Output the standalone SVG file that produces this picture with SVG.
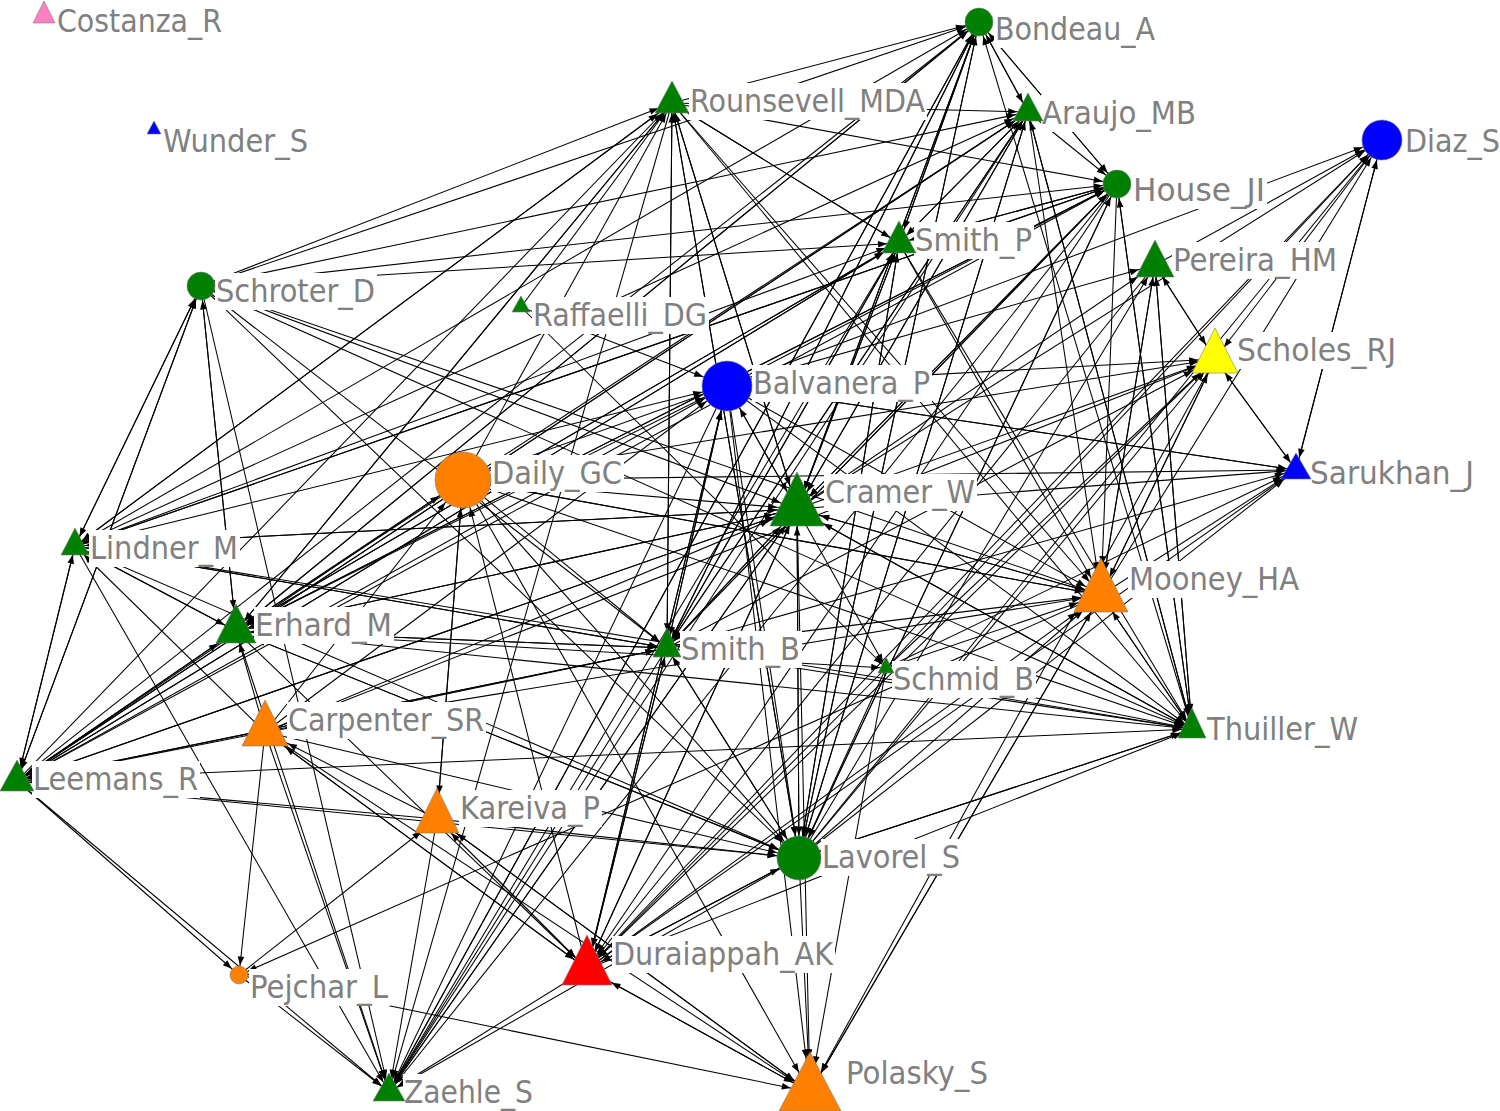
<svg xmlns="http://www.w3.org/2000/svg" width="1500" height="1111" viewBox="0 0 1500 1111">
<style>
#edges line{stroke:#000;stroke-width:1.05;fill:none}
.lb{fill:#fff}
.tx{font-family:"DejaVu Sans Condensed","DejaVu Sans",sans-serif;font-size:31.5px;fill:#808080}
.nd{stroke:#7a7a7a;stroke-width:0.6}
marker path{fill:#000}
.Bo{marker-end:url(#m-Bo)}.Di{marker-end:url(#m-Di)}.Ho{marker-end:url(#m-Ho)}.Sc{marker-end:url(#m-Sc)}.Ba{marker-end:url(#m-Ba)}.Da{marker-end:url(#m-Da)}.La{marker-end:url(#m-La)}.Pj{marker-end:url(#m-Pj)}
.Ro_a{marker-end:url(#m-Ro_a)}.Ro_b{marker-end:url(#m-Ro_b)}.Ro_c{marker-end:url(#m-Ro_c)}.Ro_d{marker-end:url(#m-Ro_d)}
.Ar_a{marker-end:url(#m-Ar_a)}.Ar_b{marker-end:url(#m-Ar_b)}.Ar_c{marker-end:url(#m-Ar_c)}.Ar_d{marker-end:url(#m-Ar_d)}
.SP_a{marker-end:url(#m-SP_a)}.SP_b{marker-end:url(#m-SP_b)}.SP_c{marker-end:url(#m-SP_c)}.SP_d{marker-end:url(#m-SP_d)}
.Pe_a{marker-end:url(#m-Pe_a)}.Pe_b{marker-end:url(#m-Pe_b)}.Pe_c{marker-end:url(#m-Pe_c)}.Pe_d{marker-end:url(#m-Pe_d)}
.Sh_a{marker-end:url(#m-Sh_a)}.Sh_b{marker-end:url(#m-Sh_b)}.Sh_c{marker-end:url(#m-Sh_c)}.Sh_d{marker-end:url(#m-Sh_d)}
.Sa_a{marker-end:url(#m-Sa_a)}.Sa_b{marker-end:url(#m-Sa_b)}.Sa_c{marker-end:url(#m-Sa_c)}.Sa_d{marker-end:url(#m-Sa_d)}
.Cr_a{marker-end:url(#m-Cr_a)}.Cr_b{marker-end:url(#m-Cr_b)}.Cr_c{marker-end:url(#m-Cr_c)}.Cr_d{marker-end:url(#m-Cr_d)}
.Li_a{marker-end:url(#m-Li_a)}.Li_b{marker-end:url(#m-Li_b)}.Li_c{marker-end:url(#m-Li_c)}.Li_d{marker-end:url(#m-Li_d)}
.Mo_a{marker-end:url(#m-Mo_a)}.Mo_b{marker-end:url(#m-Mo_b)}.Mo_c{marker-end:url(#m-Mo_c)}.Mo_d{marker-end:url(#m-Mo_d)}
.Er_a{marker-end:url(#m-Er_a)}.Er_b{marker-end:url(#m-Er_b)}.Er_c{marker-end:url(#m-Er_c)}.Er_d{marker-end:url(#m-Er_d)}
.SB_a{marker-end:url(#m-SB_a)}.SB_b{marker-end:url(#m-SB_b)}.SB_c{marker-end:url(#m-SB_c)}.SB_d{marker-end:url(#m-SB_d)}
.Sm_a{marker-end:url(#m-Sm_a)}.Sm_b{marker-end:url(#m-Sm_b)}
.Ca_d{marker-end:url(#m-Ca_d)}
.Th_a{marker-end:url(#m-Th_a)}.Th_b{marker-end:url(#m-Th_b)}.Th_c{marker-end:url(#m-Th_c)}.Th_d{marker-end:url(#m-Th_d)}
.Le_a{marker-end:url(#m-Le_a)}.Le_b{marker-end:url(#m-Le_b)}.Le_c{marker-end:url(#m-Le_c)}
.Ka_c{marker-end:url(#m-Ka_c)}.Ka_d{marker-end:url(#m-Ka_d)}
.Du_a{marker-end:url(#m-Du_a)}.Du_b{marker-end:url(#m-Du_b)}.Du_c{marker-end:url(#m-Du_c)}.Du_d{marker-end:url(#m-Du_d)}
.Po_a{marker-end:url(#m-Po_a)}.Po_b{marker-end:url(#m-Po_b)}.Po_c{marker-end:url(#m-Po_c)}.Po_d{marker-end:url(#m-Po_d)}
.Za_a{marker-end:url(#m-Za_a)}.Za_b{marker-end:url(#m-Za_b)}.Za_c{marker-end:url(#m-Za_c)}
</style>
<defs>
<marker id="m-Bo" markerUnits="userSpaceOnUse" markerWidth="10" markerHeight="8" orient="auto" overflow="visible" refX="23.5" refY="0"><path d="M0,-3.3L9,0L0,3.3z"/></marker>
<marker id="m-Di" markerUnits="userSpaceOnUse" markerWidth="10" markerHeight="8" orient="auto" overflow="visible" refX="29.5" refY="0"><path d="M0,-3.3L9,0L0,3.3z"/></marker>
<marker id="m-Ho" markerUnits="userSpaceOnUse" markerWidth="10" markerHeight="8" orient="auto" overflow="visible" refX="23.5" refY="0"><path d="M0,-3.3L9,0L0,3.3z"/></marker>
<marker id="m-Sc" markerUnits="userSpaceOnUse" markerWidth="10" markerHeight="8" orient="auto" overflow="visible" refX="23.5" refY="0"><path d="M0,-3.3L9,0L0,3.3z"/></marker>
<marker id="m-Ba" markerUnits="userSpaceOnUse" markerWidth="10" markerHeight="8" orient="auto" overflow="visible" refX="34.5" refY="0"><path d="M0,-3.3L9,0L0,3.3z"/></marker>
<marker id="m-Da" markerUnits="userSpaceOnUse" markerWidth="10" markerHeight="8" orient="auto" overflow="visible" refX="37.5" refY="0"><path d="M0,-3.3L9,0L0,3.3z"/></marker>
<marker id="m-La" markerUnits="userSpaceOnUse" markerWidth="10" markerHeight="8" orient="auto" overflow="visible" refX="31.5" refY="0"><path d="M0,-3.3L9,0L0,3.3z"/></marker>
<marker id="m-Pj" markerUnits="userSpaceOnUse" markerWidth="10" markerHeight="8" orient="auto" overflow="visible" refX="18.5" refY="0"><path d="M0,-3.3L9,0L0,3.3z"/></marker>
<marker id="m-Ro_a" markerUnits="userSpaceOnUse" markerWidth="10" markerHeight="8" orient="auto" overflow="visible" refX="19.5" refY="0"><path d="M0,-3.3L9,0L0,3.3z"/></marker>
<marker id="m-Ro_b" markerUnits="userSpaceOnUse" markerWidth="10" markerHeight="8" orient="auto" overflow="visible" refX="21" refY="0"><path d="M0,-3.3L9,0L0,3.3z"/></marker>
<marker id="m-Ro_c" markerUnits="userSpaceOnUse" markerWidth="10" markerHeight="8" orient="auto" overflow="visible" refX="23.5" refY="0"><path d="M0,-3.3L9,0L0,3.3z"/></marker>
<marker id="m-Ro_d" markerUnits="userSpaceOnUse" markerWidth="10" markerHeight="8" orient="auto" overflow="visible" refX="27" refY="0"><path d="M0,-3.3L9,0L0,3.3z"/></marker>
<marker id="m-Ar_a" markerUnits="userSpaceOnUse" markerWidth="10" markerHeight="8" orient="auto" overflow="visible" refX="18.5" refY="0"><path d="M0,-3.3L9,0L0,3.3z"/></marker>
<marker id="m-Ar_b" markerUnits="userSpaceOnUse" markerWidth="10" markerHeight="8" orient="auto" overflow="visible" refX="19.8" refY="0"><path d="M0,-3.3L9,0L0,3.3z"/></marker>
<marker id="m-Ar_c" markerUnits="userSpaceOnUse" markerWidth="10" markerHeight="8" orient="auto" overflow="visible" refX="22" refY="0"><path d="M0,-3.3L9,0L0,3.3z"/></marker>
<marker id="m-Ar_d" markerUnits="userSpaceOnUse" markerWidth="10" markerHeight="8" orient="auto" overflow="visible" refX="25.2" refY="0"><path d="M0,-3.3L9,0L0,3.3z"/></marker>
<marker id="m-SP_a" markerUnits="userSpaceOnUse" markerWidth="10" markerHeight="8" orient="auto" overflow="visible" refX="19.5" refY="0"><path d="M0,-3.3L9,0L0,3.3z"/></marker>
<marker id="m-SP_b" markerUnits="userSpaceOnUse" markerWidth="10" markerHeight="8" orient="auto" overflow="visible" refX="21" refY="0"><path d="M0,-3.3L9,0L0,3.3z"/></marker>
<marker id="m-SP_c" markerUnits="userSpaceOnUse" markerWidth="10" markerHeight="8" orient="auto" overflow="visible" refX="23.5" refY="0"><path d="M0,-3.3L9,0L0,3.3z"/></marker>
<marker id="m-SP_d" markerUnits="userSpaceOnUse" markerWidth="10" markerHeight="8" orient="auto" overflow="visible" refX="27" refY="0"><path d="M0,-3.3L9,0L0,3.3z"/></marker>
<marker id="m-Pe_a" markerUnits="userSpaceOnUse" markerWidth="10" markerHeight="8" orient="auto" overflow="visible" refX="21.1" refY="0"><path d="M0,-3.3L9,0L0,3.3z"/></marker>
<marker id="m-Pe_b" markerUnits="userSpaceOnUse" markerWidth="10" markerHeight="8" orient="auto" overflow="visible" refX="22.8" refY="0"><path d="M0,-3.3L9,0L0,3.3z"/></marker>
<marker id="m-Pe_c" markerUnits="userSpaceOnUse" markerWidth="10" markerHeight="8" orient="auto" overflow="visible" refX="25.7" refY="0"><path d="M0,-3.3L9,0L0,3.3z"/></marker>
<marker id="m-Pe_d" markerUnits="userSpaceOnUse" markerWidth="10" markerHeight="8" orient="auto" overflow="visible" refX="29.7" refY="0"><path d="M0,-3.3L9,0L0,3.3z"/></marker>
<marker id="m-Sh_a" markerUnits="userSpaceOnUse" markerWidth="10" markerHeight="8" orient="auto" overflow="visible" refX="23.7" refY="0"><path d="M0,-3.3L9,0L0,3.3z"/></marker>
<marker id="m-Sh_b" markerUnits="userSpaceOnUse" markerWidth="10" markerHeight="8" orient="auto" overflow="visible" refX="25.8" refY="0"><path d="M0,-3.3L9,0L0,3.3z"/></marker>
<marker id="m-Sh_c" markerUnits="userSpaceOnUse" markerWidth="10" markerHeight="8" orient="auto" overflow="visible" refX="29.3" refY="0"><path d="M0,-3.3L9,0L0,3.3z"/></marker>
<marker id="m-Sh_d" markerUnits="userSpaceOnUse" markerWidth="10" markerHeight="8" orient="auto" overflow="visible" refX="34.2" refY="0"><path d="M0,-3.3L9,0L0,3.3z"/></marker>
<marker id="m-Sa_a" markerUnits="userSpaceOnUse" markerWidth="10" markerHeight="8" orient="auto" overflow="visible" refX="18.1" refY="0"><path d="M0,-3.3L9,0L0,3.3z"/></marker>
<marker id="m-Sa_b" markerUnits="userSpaceOnUse" markerWidth="10" markerHeight="8" orient="auto" overflow="visible" refX="19.4" refY="0"><path d="M0,-3.3L9,0L0,3.3z"/></marker>
<marker id="m-Sa_c" markerUnits="userSpaceOnUse" markerWidth="10" markerHeight="8" orient="auto" overflow="visible" refX="21.6" refY="0"><path d="M0,-3.3L9,0L0,3.3z"/></marker>
<marker id="m-Sa_d" markerUnits="userSpaceOnUse" markerWidth="10" markerHeight="8" orient="auto" overflow="visible" refX="24.7" refY="0"><path d="M0,-3.3L9,0L0,3.3z"/></marker>
<marker id="m-Cr_a" markerUnits="userSpaceOnUse" markerWidth="10" markerHeight="8" orient="auto" overflow="visible" refX="26.5" refY="0"><path d="M0,-3.3L9,0L0,3.3z"/></marker>
<marker id="m-Cr_b" markerUnits="userSpaceOnUse" markerWidth="10" markerHeight="8" orient="auto" overflow="visible" refX="29" refY="0"><path d="M0,-3.3L9,0L0,3.3z"/></marker>
<marker id="m-Cr_c" markerUnits="userSpaceOnUse" markerWidth="10" markerHeight="8" orient="auto" overflow="visible" refX="33.2" refY="0"><path d="M0,-3.3L9,0L0,3.3z"/></marker>
<marker id="m-Cr_d" markerUnits="userSpaceOnUse" markerWidth="10" markerHeight="8" orient="auto" overflow="visible" refX="39" refY="0"><path d="M0,-3.3L9,0L0,3.3z"/></marker>
<marker id="m-Li_a" markerUnits="userSpaceOnUse" markerWidth="10" markerHeight="8" orient="auto" overflow="visible" refX="17.9" refY="0"><path d="M0,-3.3L9,0L0,3.3z"/></marker>
<marker id="m-Li_b" markerUnits="userSpaceOnUse" markerWidth="10" markerHeight="8" orient="auto" overflow="visible" refX="19.2" refY="0"><path d="M0,-3.3L9,0L0,3.3z"/></marker>
<marker id="m-Li_c" markerUnits="userSpaceOnUse" markerWidth="10" markerHeight="8" orient="auto" overflow="visible" refX="21.3" refY="0"><path d="M0,-3.3L9,0L0,3.3z"/></marker>
<marker id="m-Li_d" markerUnits="userSpaceOnUse" markerWidth="10" markerHeight="8" orient="auto" overflow="visible" refX="24.3" refY="0"><path d="M0,-3.3L9,0L0,3.3z"/></marker>
<marker id="m-Mo_a" markerUnits="userSpaceOnUse" markerWidth="10" markerHeight="8" orient="auto" overflow="visible" refX="26.5" refY="0"><path d="M0,-3.3L9,0L0,3.3z"/></marker>
<marker id="m-Mo_b" markerUnits="userSpaceOnUse" markerWidth="10" markerHeight="8" orient="auto" overflow="visible" refX="29" refY="0"><path d="M0,-3.3L9,0L0,3.3z"/></marker>
<marker id="m-Mo_c" markerUnits="userSpaceOnUse" markerWidth="10" markerHeight="8" orient="auto" overflow="visible" refX="33.2" refY="0"><path d="M0,-3.3L9,0L0,3.3z"/></marker>
<marker id="m-Mo_d" markerUnits="userSpaceOnUse" markerWidth="10" markerHeight="8" orient="auto" overflow="visible" refX="39" refY="0"><path d="M0,-3.3L9,0L0,3.3z"/></marker>
<marker id="m-Er_a" markerUnits="userSpaceOnUse" markerWidth="10" markerHeight="8" orient="auto" overflow="visible" refX="21.8" refY="0"><path d="M0,-3.3L9,0L0,3.3z"/></marker>
<marker id="m-Er_b" markerUnits="userSpaceOnUse" markerWidth="10" markerHeight="8" orient="auto" overflow="visible" refX="23.6" refY="0"><path d="M0,-3.3L9,0L0,3.3z"/></marker>
<marker id="m-Er_c" markerUnits="userSpaceOnUse" markerWidth="10" markerHeight="8" orient="auto" overflow="visible" refX="26.7" refY="0"><path d="M0,-3.3L9,0L0,3.3z"/></marker>
<marker id="m-Er_d" markerUnits="userSpaceOnUse" markerWidth="10" markerHeight="8" orient="auto" overflow="visible" refX="31" refY="0"><path d="M0,-3.3L9,0L0,3.3z"/></marker>
<marker id="m-SB_a" markerUnits="userSpaceOnUse" markerWidth="10" markerHeight="8" orient="auto" overflow="visible" refX="18.2" refY="0"><path d="M0,-3.3L9,0L0,3.3z"/></marker>
<marker id="m-SB_b" markerUnits="userSpaceOnUse" markerWidth="10" markerHeight="8" orient="auto" overflow="visible" refX="19.6" refY="0"><path d="M0,-3.3L9,0L0,3.3z"/></marker>
<marker id="m-SB_c" markerUnits="userSpaceOnUse" markerWidth="10" markerHeight="8" orient="auto" overflow="visible" refX="21.8" refY="0"><path d="M0,-3.3L9,0L0,3.3z"/></marker>
<marker id="m-SB_d" markerUnits="userSpaceOnUse" markerWidth="10" markerHeight="8" orient="auto" overflow="visible" refX="24.8" refY="0"><path d="M0,-3.3L9,0L0,3.3z"/></marker>
<marker id="m-Sm_a" markerUnits="userSpaceOnUse" markerWidth="10" markerHeight="8" orient="auto" overflow="visible" refX="14" refY="0"><path d="M0,-3.3L9,0L0,3.3z"/></marker>
<marker id="m-Sm_b" markerUnits="userSpaceOnUse" markerWidth="10" markerHeight="8" orient="auto" overflow="visible" refX="14.8" refY="0"><path d="M0,-3.3L9,0L0,3.3z"/></marker>
<marker id="m-Ca_d" markerUnits="userSpaceOnUse" markerWidth="10" markerHeight="8" orient="auto" overflow="visible" refX="34.6" refY="0"><path d="M0,-3.3L9,0L0,3.3z"/></marker>
<marker id="m-Th_a" markerUnits="userSpaceOnUse" markerWidth="10" markerHeight="8" orient="auto" overflow="visible" refX="18.3" refY="0"><path d="M0,-3.3L9,0L0,3.3z"/></marker>
<marker id="m-Th_b" markerUnits="userSpaceOnUse" markerWidth="10" markerHeight="8" orient="auto" overflow="visible" refX="19.7" refY="0"><path d="M0,-3.3L9,0L0,3.3z"/></marker>
<marker id="m-Th_c" markerUnits="userSpaceOnUse" markerWidth="10" markerHeight="8" orient="auto" overflow="visible" refX="21.9" refY="0"><path d="M0,-3.3L9,0L0,3.3z"/></marker>
<marker id="m-Th_d" markerUnits="userSpaceOnUse" markerWidth="10" markerHeight="8" orient="auto" overflow="visible" refX="25" refY="0"><path d="M0,-3.3L9,0L0,3.3z"/></marker>
<marker id="m-Le_a" markerUnits="userSpaceOnUse" markerWidth="10" markerHeight="8" orient="auto" overflow="visible" refX="19.6" refY="0"><path d="M0,-3.3L9,0L0,3.3z"/></marker>
<marker id="m-Le_b" markerUnits="userSpaceOnUse" markerWidth="10" markerHeight="8" orient="auto" overflow="visible" refX="21.1" refY="0"><path d="M0,-3.3L9,0L0,3.3z"/></marker>
<marker id="m-Le_c" markerUnits="userSpaceOnUse" markerWidth="10" markerHeight="8" orient="auto" overflow="visible" refX="23.6" refY="0"><path d="M0,-3.3L9,0L0,3.3z"/></marker>
<marker id="m-Ka_c" markerUnits="userSpaceOnUse" markerWidth="10" markerHeight="8" orient="auto" overflow="visible" refX="28.9" refY="0"><path d="M0,-3.3L9,0L0,3.3z"/></marker>
<marker id="m-Ka_d" markerUnits="userSpaceOnUse" markerWidth="10" markerHeight="8" orient="auto" overflow="visible" refX="33.7" refY="0"><path d="M0,-3.3L9,0L0,3.3z"/></marker>
<marker id="m-Du_a" markerUnits="userSpaceOnUse" markerWidth="10" markerHeight="8" orient="auto" overflow="visible" refX="25.3" refY="0"><path d="M0,-3.3L9,0L0,3.3z"/></marker>
<marker id="m-Du_b" markerUnits="userSpaceOnUse" markerWidth="10" markerHeight="8" orient="auto" overflow="visible" refX="27.6" refY="0"><path d="M0,-3.3L9,0L0,3.3z"/></marker>
<marker id="m-Du_c" markerUnits="userSpaceOnUse" markerWidth="10" markerHeight="8" orient="auto" overflow="visible" refX="31.5" refY="0"><path d="M0,-3.3L9,0L0,3.3z"/></marker>
<marker id="m-Du_d" markerUnits="userSpaceOnUse" markerWidth="10" markerHeight="8" orient="auto" overflow="visible" refX="36.9" refY="0"><path d="M0,-3.3L9,0L0,3.3z"/></marker>
<marker id="m-Po_a" markerUnits="userSpaceOnUse" markerWidth="10" markerHeight="8" orient="auto" overflow="visible" refX="28.6" refY="0"><path d="M0,-3.3L9,0L0,3.3z"/></marker>
<marker id="m-Po_b" markerUnits="userSpaceOnUse" markerWidth="10" markerHeight="8" orient="auto" overflow="visible" refX="31.4" refY="0"><path d="M0,-3.3L9,0L0,3.3z"/></marker>
<marker id="m-Po_c" markerUnits="userSpaceOnUse" markerWidth="10" markerHeight="8" orient="auto" overflow="visible" refX="36.1" refY="0"><path d="M0,-3.3L9,0L0,3.3z"/></marker>
<marker id="m-Po_d" markerUnits="userSpaceOnUse" markerWidth="10" markerHeight="8" orient="auto" overflow="visible" refX="42.7" refY="0"><path d="M0,-3.3L9,0L0,3.3z"/></marker>
<marker id="m-Za_a" markerUnits="userSpaceOnUse" markerWidth="10" markerHeight="8" orient="auto" overflow="visible" refX="18.8" refY="0"><path d="M0,-3.3L9,0L0,3.3z"/></marker>
<marker id="m-Za_b" markerUnits="userSpaceOnUse" markerWidth="10" markerHeight="8" orient="auto" overflow="visible" refX="20.2" refY="0"><path d="M0,-3.3L9,0L0,3.3z"/></marker>
<marker id="m-Za_c" markerUnits="userSpaceOnUse" markerWidth="10" markerHeight="8" orient="auto" overflow="visible" refX="22.5" refY="0"><path d="M0,-3.3L9,0L0,3.3z"/></marker>
</defs>
<rect width="1500" height="1111" fill="#fff"/>
<g id="edges">
<line class="Li_b" x1="201" y1="286" x2="75" y2="546"/>
<line class="Le_b" x1="201" y1="286" x2="17" y2="781"/>
<line class="Er_d" x1="201" y1="286" x2="236" y2="631"/>
<line class="Ro_c" x1="201" y1="286" x2="672" y2="103"/>
<line class="Bo" x1="201" y1="286" x2="979" y2="22"/>
<line class="Ar_c" x1="201" y1="286" x2="1028" y2="112"/>
<line class="Ho" x1="201" y1="286" x2="1117" y2="184"/>
<line class="SP_b" x1="201" y1="286" x2="899" y2="243"/>
<line class="SB_a" x1="201" y1="286" x2="667" y2="648"/>
<line class="La" x1="201" y1="286" x2="799" y2="858"/>
<line class="Cr_a" x1="201" y1="286" x2="797" y2="509"/>
<line class="Th_a" x1="201" y1="286" x2="1192" y2="729"/>
<line class="Za_c" x1="201" y1="286" x2="389" y2="1092"/>
<line class="Mo_a" x1="201" y1="286" x2="1101" y2="595"/>
<line class="Sc" x1="75" y1="546" x2="201" y2="286"/>
<line class="Le_c" x1="75" y1="546" x2="17" y2="781"/>
<line class="Er_a" x1="75" y1="546" x2="236" y2="631"/>
<line class="Ro_d" x1="75" y1="546" x2="672" y2="103"/>
<line class="Bo" x1="75" y1="546" x2="979" y2="22"/>
<line class="Ar_d" x1="75" y1="546" x2="1028" y2="112"/>
<line class="Ho" x1="75" y1="546" x2="1117" y2="184"/>
<line class="SP_c" x1="75" y1="546" x2="899" y2="243"/>
<line class="Cr_b" x1="75" y1="546" x2="797" y2="509"/>
<line class="SB_a" x1="75" y1="546" x2="667" y2="648"/>
<line class="Th_a" x1="75" y1="546" x2="1192" y2="729"/>
<line class="Za_b" x1="75" y1="546" x2="389" y2="1092"/>
<line class="La" x1="75" y1="546" x2="799" y2="858"/>
<line class="Ba" x1="75" y1="546" x2="727" y2="386"/>
<line class="Li_a" x1="17" y1="781" x2="75" y2="546"/>
<line class="Sc" x1="17" y1="781" x2="201" y2="286"/>
<line class="Er_d" x1="17" y1="781" x2="236" y2="631"/>
<line class="Ro_c" x1="17" y1="781" x2="672" y2="103"/>
<line class="Bo" x1="17" y1="781" x2="979" y2="22"/>
<line class="Ar_d" x1="17" y1="781" x2="1028" y2="112"/>
<line class="Ho" x1="17" y1="781" x2="1117" y2="184"/>
<line class="SP_d" x1="17" y1="781" x2="899" y2="243"/>
<line class="Cr_c" x1="17" y1="781" x2="797" y2="509"/>
<line class="SB_c" x1="17" y1="781" x2="667" y2="648"/>
<line class="Th_b" x1="17" y1="781" x2="1192" y2="729"/>
<line class="La" x1="17" y1="781" x2="799" y2="858"/>
<line class="Za_a" x1="17" y1="781" x2="389" y2="1092"/>
<line class="Ba" x1="17" y1="781" x2="727" y2="386"/>
<line class="Da" x1="17" y1="781" x2="463" y2="480"/>
<line class="Pj" x1="17" y1="781" x2="239" y2="975"/>
<line class="Sc" x1="236" y1="631" x2="201" y2="286"/>
<line class="Li_d" x1="236" y1="631" x2="75" y2="546"/>
<line class="Le_a" x1="236" y1="631" x2="17" y2="781"/>
<line class="Ro_b" x1="236" y1="631" x2="672" y2="103"/>
<line class="Bo" x1="236" y1="631" x2="979" y2="22"/>
<line class="Ar_d" x1="236" y1="631" x2="1028" y2="112"/>
<line class="Ho" x1="236" y1="631" x2="1117" y2="184"/>
<line class="SP_d" x1="236" y1="631" x2="899" y2="243"/>
<line class="Cr_c" x1="236" y1="631" x2="797" y2="509"/>
<line class="SB_b" x1="236" y1="631" x2="667" y2="648"/>
<line class="Th_a" x1="236" y1="631" x2="1192" y2="729"/>
<line class="La" x1="236" y1="631" x2="799" y2="858"/>
<line class="Za_c" x1="236" y1="631" x2="389" y2="1092"/>
<line class="Sm_b" x1="236" y1="631" x2="886" y2="668"/>
<line class="Du_a" x1="236" y1="631" x2="587" y2="969"/>
<line class="Ba" x1="236" y1="631" x2="727" y2="386"/>
<line class="Bo" x1="672" y1="103" x2="979" y2="22"/>
<line class="Ar_b" x1="672" y1="103" x2="1028" y2="112"/>
<line class="Ho" x1="672" y1="103" x2="1117" y2="184"/>
<line class="SP_a" x1="672" y1="103" x2="899" y2="243"/>
<line class="SB_d" x1="672" y1="103" x2="667" y2="648"/>
<line class="Cr_c" x1="672" y1="103" x2="797" y2="509"/>
<line class="Th_a" x1="672" y1="103" x2="1192" y2="729"/>
<line class="La" x1="672" y1="103" x2="799" y2="858"/>
<line class="Za_c" x1="672" y1="103" x2="389" y2="1092"/>
<line class="Er_a" x1="672" y1="103" x2="236" y2="631"/>
<line class="Li_a" x1="672" y1="103" x2="75" y2="546"/>
<line class="Mo_a" x1="672" y1="103" x2="1101" y2="595"/>
<line class="Ar_b" x1="979" y1="22" x2="1028" y2="112"/>
<line class="Ho" x1="979" y1="22" x2="1117" y2="184"/>
<line class="SP_c" x1="979" y1="22" x2="899" y2="243"/>
<line class="Cr_b" x1="979" y1="22" x2="797" y2="509"/>
<line class="La" x1="979" y1="22" x2="799" y2="858"/>
<line class="Za_b" x1="979" y1="22" x2="389" y2="1092"/>
<line class="SB_b" x1="979" y1="22" x2="667" y2="648"/>
<line class="Er_a" x1="979" y1="22" x2="236" y2="631"/>
<line class="Ho" x1="1028" y1="112" x2="1117" y2="184"/>
<line class="Bo" x1="1028" y1="112" x2="979" y2="22"/>
<line class="Th_c" x1="1028" y1="112" x2="1192" y2="729"/>
<line class="SP_a" x1="1028" y1="112" x2="899" y2="243"/>
<line class="Cr_b" x1="1028" y1="112" x2="797" y2="509"/>
<line class="SB_b" x1="1028" y1="112" x2="667" y2="648"/>
<line class="La" x1="1028" y1="112" x2="799" y2="858"/>
<line class="Za_b" x1="1028" y1="112" x2="389" y2="1092"/>
<line class="Le_a" x1="1028" y1="112" x2="17" y2="781"/>
<line class="Mo_c" x1="1028" y1="112" x2="1101" y2="595"/>
<line class="Th_d" x1="1117" y1="184" x2="1192" y2="729"/>
<line class="Bo" x1="1117" y1="184" x2="979" y2="22"/>
<line class="Cr_a" x1="1117" y1="184" x2="797" y2="509"/>
<line class="SB_a" x1="1117" y1="184" x2="667" y2="648"/>
<line class="La" x1="1117" y1="184" x2="799" y2="858"/>
<line class="Za_a" x1="1117" y1="184" x2="389" y2="1092"/>
<line class="Er_a" x1="1117" y1="184" x2="236" y2="631"/>
<line class="Li_a" x1="1117" y1="184" x2="75" y2="546"/>
<line class="SP_a" x1="1117" y1="184" x2="899" y2="243"/>
<line class="Mo_d" x1="1117" y1="184" x2="1101" y2="595"/>
<line class="Du_b" x1="1117" y1="184" x2="587" y2="969"/>
<line class="Bo" x1="899" y1="243" x2="979" y2="22"/>
<line class="Ar_c" x1="899" y1="243" x2="1028" y2="112"/>
<line class="Ho" x1="899" y1="243" x2="1117" y2="184"/>
<line class="Ro_d" x1="899" y1="243" x2="672" y2="103"/>
<line class="Cr_b" x1="899" y1="243" x2="797" y2="509"/>
<line class="SB_b" x1="899" y1="243" x2="667" y2="648"/>
<line class="La" x1="899" y1="243" x2="799" y2="858"/>
<line class="Th_b" x1="899" y1="243" x2="1192" y2="729"/>
<line class="Za_b" x1="899" y1="243" x2="389" y2="1092"/>
<line class="Er_a" x1="899" y1="243" x2="236" y2="631"/>
<line class="Le_a" x1="899" y1="243" x2="17" y2="781"/>
<line class="Mo_b" x1="899" y1="243" x2="1101" y2="595"/>
<line class="Bo" x1="797" y1="509" x2="979" y2="22"/>
<line class="Ro_a" x1="797" y1="509" x2="672" y2="103"/>
<line class="Ar_b" x1="797" y1="509" x2="1028" y2="112"/>
<line class="Ho" x1="797" y1="509" x2="1117" y2="184"/>
<line class="SP_a" x1="797" y1="509" x2="899" y2="243"/>
<line class="Li_b" x1="797" y1="509" x2="75" y2="546"/>
<line class="Le_a" x1="797" y1="509" x2="17" y2="781"/>
<line class="Er_a" x1="797" y1="509" x2="236" y2="631"/>
<line class="SB_a" x1="797" y1="509" x2="667" y2="648"/>
<line class="La" x1="797" y1="509" x2="799" y2="858"/>
<line class="Th_a" x1="797" y1="509" x2="1192" y2="729"/>
<line class="Za_b" x1="797" y1="509" x2="389" y2="1092"/>
<line class="Di" x1="797" y1="509" x2="1382" y2="140"/>
<line class="Sh_c" x1="797" y1="509" x2="1215" y2="359"/>
<line class="Sa_b" x1="797" y1="509" x2="1296" y2="470"/>
<line class="Pe_d" x1="797" y1="509" x2="1155" y2="265"/>
<line class="Mo_a" x1="797" y1="509" x2="1101" y2="595"/>
<line class="Po_d" x1="797" y1="509" x2="810" y2="1092"/>
<line class="Du_b" x1="797" y1="509" x2="587" y2="969"/>
<line class="Ba" x1="797" y1="509" x2="727" y2="386"/>
<line class="Sm_b" x1="797" y1="509" x2="886" y2="668"/>
<line class="Cr_c" x1="667" y1="648" x2="797" y2="509"/>
<line class="Ro_a" x1="667" y1="648" x2="672" y2="103"/>
<line class="Bo" x1="667" y1="648" x2="979" y2="22"/>
<line class="Ar_b" x1="667" y1="648" x2="1028" y2="112"/>
<line class="Ho" x1="667" y1="648" x2="1117" y2="184"/>
<line class="SP_b" x1="667" y1="648" x2="899" y2="243"/>
<line class="Li_c" x1="667" y1="648" x2="75" y2="546"/>
<line class="Le_a" x1="667" y1="648" x2="17" y2="781"/>
<line class="Er_b" x1="667" y1="648" x2="236" y2="631"/>
<line class="La" x1="667" y1="648" x2="799" y2="858"/>
<line class="Th_a" x1="667" y1="648" x2="1192" y2="729"/>
<line class="Za_b" x1="667" y1="648" x2="389" y2="1092"/>
<line class="Du_c" x1="667" y1="648" x2="587" y2="969"/>
<line class="Mo_b" x1="667" y1="648" x2="1101" y2="595"/>
<line class="Sh_d" x1="667" y1="648" x2="1215" y2="359"/>
<line class="Sa_c" x1="667" y1="648" x2="1296" y2="470"/>
<line class="Ba" x1="667" y1="648" x2="727" y2="386"/>
<line class="Cr_a" x1="799" y1="858" x2="797" y2="509"/>
<line class="Th_c" x1="799" y1="858" x2="1192" y2="729"/>
<line class="Ho" x1="799" y1="858" x2="1117" y2="184"/>
<line class="SP_a" x1="799" y1="858" x2="899" y2="243"/>
<line class="Bo" x1="799" y1="858" x2="979" y2="22"/>
<line class="Ar_a" x1="799" y1="858" x2="1028" y2="112"/>
<line class="Ro_a" x1="799" y1="858" x2="672" y2="103"/>
<line class="SB_b" x1="799" y1="858" x2="667" y2="648"/>
<line class="Za_a" x1="799" y1="858" x2="389" y2="1092"/>
<line class="Er_d" x1="799" y1="858" x2="236" y2="631"/>
<line class="Po_d" x1="799" y1="858" x2="810" y2="1092"/>
<line class="Mo_c" x1="799" y1="858" x2="1101" y2="595"/>
<line class="Sh_b" x1="799" y1="858" x2="1215" y2="359"/>
<line class="Pe_b" x1="799" y1="858" x2="1155" y2="265"/>
<line class="Sa_d" x1="799" y1="858" x2="1296" y2="470"/>
<line class="Du_a" x1="799" y1="858" x2="587" y2="969"/>
<line class="Di" x1="799" y1="858" x2="1382" y2="140"/>
<line class="Ho" x1="1192" y1="729" x2="1117" y2="184"/>
<line class="Ar_a" x1="1192" y1="729" x2="1028" y2="112"/>
<line class="Bo" x1="1192" y1="729" x2="979" y2="22"/>
<line class="Cr_d" x1="1192" y1="729" x2="797" y2="509"/>
<line class="La" x1="1192" y1="729" x2="799" y2="858"/>
<line class="Pe_a" x1="1192" y1="729" x2="1155" y2="265"/>
<line class="Mo_b" x1="1192" y1="729" x2="1101" y2="595"/>
<line class="Bo" x1="389" y1="1092" x2="979" y2="22"/>
<line class="Cr_b" x1="389" y1="1092" x2="797" y2="509"/>
<line class="Ba" x1="521" y1="307" x2="727" y2="386"/>
<line class="Sm_a" x1="521" y1="307" x2="886" y2="668"/>
<line class="Ro_b" x1="521" y1="307" x2="672" y2="103"/>
<line class="Cr_b" x1="463" y1="480" x2="797" y2="509"/>
<line class="Sa_b" x1="463" y1="480" x2="1296" y2="470"/>
<line class="Sh_b" x1="463" y1="480" x2="1215" y2="359"/>
<line class="Ba" x1="463" y1="480" x2="727" y2="386"/>
<line class="SB_a" x1="463" y1="480" x2="667" y2="648"/>
<line class="Po_b" x1="463" y1="480" x2="810" y2="1092"/>
<line class="Mo_a" x1="463" y1="480" x2="1101" y2="595"/>
<line class="La" x1="463" y1="480" x2="799" y2="858"/>
<line class="Ro_b" x1="463" y1="480" x2="672" y2="103"/>
<line class="Th_a" x1="463" y1="480" x2="1192" y2="729"/>
<line class="Er_a" x1="463" y1="480" x2="236" y2="631"/>
<line class="Ka_d" x1="463" y1="480" x2="437" y2="819"/>
<line class="Er_a" x1="265" y1="732" x2="236" y2="631"/>
<line class="Le_a" x1="265" y1="732" x2="17" y2="781"/>
<line class="Li_c" x1="265" y1="732" x2="75" y2="546"/>
<line class="Pj" x1="265" y1="732" x2="239" y2="975"/>
<line class="Za_c" x1="265" y1="732" x2="389" y2="1092"/>
<line class="Da" x1="265" y1="732" x2="463" y2="480"/>
<line class="Ba" x1="265" y1="732" x2="727" y2="386"/>
<line class="Cr_d" x1="265" y1="732" x2="797" y2="509"/>
<line class="Mo_b" x1="265" y1="732" x2="1101" y2="595"/>
<line class="Sh_c" x1="265" y1="732" x2="1215" y2="359"/>
<line class="La" x1="265" y1="732" x2="799" y2="858"/>
<line class="Du_a" x1="265" y1="732" x2="587" y2="969"/>
<line class="SB_c" x1="265" y1="732" x2="667" y2="648"/>
<line class="Po_a" x1="265" y1="732" x2="810" y2="1092"/>
<line class="Za_c" x1="437" y1="819" x2="389" y2="1092"/>
<line class="Du_a" x1="437" y1="819" x2="587" y2="969"/>
<line class="Da" x1="437" y1="819" x2="463" y2="480"/>
<line class="La" x1="437" y1="819" x2="799" y2="858"/>
<line class="Po_a" x1="437" y1="819" x2="810" y2="1092"/>
<line class="Ca_d" x1="437" y1="819" x2="265" y2="732"/>
<line class="Le_b" x1="437" y1="819" x2="17" y2="781"/>
<line class="Za_a" x1="239" y1="975" x2="389" y2="1092"/>
<line class="Po_a" x1="239" y1="975" x2="810" y2="1092"/>
<line class="Ka_c" x1="239" y1="975" x2="437" y2="819"/>
<line class="Ca_d" x1="587" y1="969" x2="265" y2="732"/>
<line class="Po_a" x1="587" y1="969" x2="810" y2="1092"/>
<line class="La" x1="587" y1="969" x2="799" y2="858"/>
<line class="Za_a" x1="587" y1="969" x2="389" y2="1092"/>
<line class="Ka_c" x1="587" y1="969" x2="437" y2="819"/>
<line class="SB_a" x1="587" y1="969" x2="667" y2="648"/>
<line class="Cr_a" x1="587" y1="969" x2="797" y2="509"/>
<line class="Ba" x1="587" y1="969" x2="727" y2="386"/>
<line class="Mo_d" x1="587" y1="969" x2="1101" y2="595"/>
<line class="Da" x1="587" y1="969" x2="463" y2="480"/>
<line class="Sa_d" x1="587" y1="969" x2="1296" y2="470"/>
<line class="Di" x1="587" y1="969" x2="1382" y2="140"/>
<line class="Th_b" x1="587" y1="969" x2="1192" y2="729"/>
<line class="Du_d" x1="810" y1="1092" x2="587" y2="969"/>
<line class="Ka_d" x1="810" y1="1092" x2="437" y2="819"/>
<line class="Mo_b" x1="810" y1="1092" x2="1101" y2="595"/>
<line class="Cr_b" x1="727" y1="386" x2="797" y2="509"/>
<line class="Pe_c" x1="727" y1="386" x2="1155" y2="265"/>
<line class="Sh_b" x1="727" y1="386" x2="1215" y2="359"/>
<line class="Sa_a" x1="727" y1="386" x2="1296" y2="470"/>
<line class="Di" x1="727" y1="386" x2="1382" y2="140"/>
<line class="La" x1="727" y1="386" x2="799" y2="858"/>
<line class="Po_d" x1="727" y1="386" x2="810" y2="1092"/>
<line class="Mo_a" x1="727" y1="386" x2="1101" y2="595"/>
<line class="SB_c" x1="727" y1="386" x2="667" y2="648"/>
<line class="Za_b" x1="727" y1="386" x2="389" y2="1092"/>
<line class="Th_a" x1="727" y1="386" x2="1192" y2="729"/>
<line class="Du_c" x1="727" y1="386" x2="587" y2="969"/>
<line class="Ho" x1="727" y1="386" x2="1117" y2="184"/>
<line class="Th_b" x1="1101" y1="595" x2="1192" y2="729"/>
<line class="Sh_b" x1="1101" y1="595" x2="1215" y2="359"/>
<line class="Pe_a" x1="1101" y1="595" x2="1155" y2="265"/>
<line class="Di" x1="1101" y1="595" x2="1382" y2="140"/>
<line class="Sa_d" x1="1101" y1="595" x2="1296" y2="470"/>
<line class="Po_b" x1="1101" y1="595" x2="810" y2="1092"/>
<line class="Pj" x1="1101" y1="595" x2="239" y2="975"/>
<line class="Cr_c" x1="1101" y1="595" x2="797" y2="509"/>
<line class="Da" x1="1101" y1="595" x2="463" y2="480"/>
<line class="Th_a" x1="886" y1="668" x2="1192" y2="729"/>
<line class="Mo_c" x1="886" y1="668" x2="1101" y2="595"/>
<line class="Di" x1="886" y1="668" x2="1382" y2="140"/>
<line class="Sh_c" x1="886" y1="668" x2="1215" y2="359"/>
<line class="Sa_d" x1="886" y1="668" x2="1296" y2="470"/>
<line class="La" x1="886" y1="668" x2="799" y2="858"/>
<line class="Du_a" x1="886" y1="668" x2="587" y2="969"/>
<line class="Po_c" x1="886" y1="668" x2="810" y2="1092"/>
<line class="Pe_b" x1="1215" y1="359" x2="1155" y2="265"/>
<line class="Sa_a" x1="1215" y1="359" x2="1296" y2="470"/>
<line class="Mo_b" x1="1215" y1="359" x2="1101" y2="595"/>
<line class="Po_b" x1="1215" y1="359" x2="810" y2="1092"/>
<line class="Du_a" x1="1215" y1="359" x2="587" y2="969"/>
<line class="Di" x1="1296" y1="470" x2="1382" y2="140"/>
<line class="Sh_b" x1="1296" y1="470" x2="1215" y2="359"/>
<line class="Ba" x1="1296" y1="470" x2="727" y2="386"/>
<line class="Di" x1="1155" y1="265" x2="1382" y2="140"/>
<line class="Sh_b" x1="1155" y1="265" x2="1215" y2="359"/>
<line class="Mo_c" x1="1155" y1="265" x2="1101" y2="595"/>
<line class="Th_d" x1="1155" y1="265" x2="1192" y2="729"/>
<line class="Du_a" x1="1155" y1="265" x2="587" y2="969"/>
<line class="Sh_a" x1="1382" y1="140" x2="1215" y2="359"/>
<line class="Sa_c" x1="1382" y1="140" x2="1296" y2="470"/>
</g>
<g id="node-Costanza_R"><rect class="lb" x="56" y="3" width="168" height="37"/><polygon class="nd" fill="#ff80c0" points="44,1 55,23 33,23"/><text class="tx" x="57" y="32" textLength="165" lengthAdjust="spacingAndGlyphs">Costanza_R</text></g>
<g id="node-Wunder_S"><rect class="lb" x="162" y="123" width="148" height="37"/><polygon class="nd" fill="#0000ff" points="154,121 161,134 147,134"/><text class="tx" x="163" y="152" textLength="145" lengthAdjust="spacingAndGlyphs">Wunder_S</text></g>
<g id="node-Bondeau_A"><rect class="lb" x="994" y="11" width="163" height="37"/><circle class="nd" fill="#008000" cx="979" cy="22" r="14"/><text class="tx" x="995" y="40" textLength="160" lengthAdjust="spacingAndGlyphs">Bondeau_A</text></g>
<g id="node-Rounsevell_MDA"><rect class="lb" x="689" y="83" width="238" height="37"/><polygon class="nd" fill="#008000" points="672,81 689,113 655,113"/><text class="tx" x="690" y="112" textLength="235" lengthAdjust="spacingAndGlyphs">Rounsevell_MDA</text></g>
<g id="node-Araujo_MB"><rect class="lb" x="1041" y="95" width="157" height="37"/><polygon class="nd" fill="#008000" points="1028,93 1043,121 1013,121"/><text class="tx" x="1042" y="124" textLength="154" lengthAdjust="spacingAndGlyphs">Araujo_MB</text></g>
<g id="node-Diaz_S"><rect class="lb" x="1404" y="123" width="96" height="37"/><circle class="nd" fill="#0000ff" cx="1382" cy="140" r="20"/><text class="tx" x="1405" y="152" textLength="95" lengthAdjust="spacingAndGlyphs">Diaz_S</text></g>
<g id="node-House_JI"><rect class="lb" x="1132" y="172" width="135" height="37"/><circle class="nd" fill="#008000" cx="1117" cy="184" r="14"/><text class="tx" x="1133" y="201" textLength="132" lengthAdjust="spacingAndGlyphs">House_JI</text></g>
<g id="node-Smith_P"><rect class="lb" x="914" y="222" width="120" height="37"/><polygon class="nd" fill="#008000" points="899,221 916,253 882,253"/><text class="tx" x="915" y="251" textLength="117" lengthAdjust="spacingAndGlyphs">Smith_P</text></g>
<g id="node-Pereira_HM"><rect class="lb" x="1172" y="242" width="167" height="37"/><polygon class="nd" fill="#008000" points="1155,240 1174,277 1136,277"/><text class="tx" x="1173" y="271" textLength="164" lengthAdjust="spacingAndGlyphs">Pereira_HM</text></g>
<g id="node-Schroter_D"><rect class="lb" x="215" y="273" width="162" height="37"/><circle class="nd" fill="#008000" cx="201" cy="286" r="14"/><text class="tx" x="216" y="302" textLength="159" lengthAdjust="spacingAndGlyphs">Schroter_D</text></g>
<g id="node-Raffaelli_DG"><rect class="lb" x="532" y="297" width="177" height="37"/><polygon class="nd" fill="#008000" points="521,296 530,312 512,312"/><text class="tx" x="533" y="326" textLength="174" lengthAdjust="spacingAndGlyphs">Raffaelli_DG</text></g>
<g id="node-Scholes_RJ"><rect class="lb" x="1236" y="332" width="162" height="37"/><polygon class="nd" fill="#ffff00" points="1215,328 1238,373 1192,373"/><text class="tx" x="1237" y="361" textLength="159" lengthAdjust="spacingAndGlyphs">Scholes_RJ</text></g>
<g id="node-Balvanera_P"><rect class="lb" x="752" y="365" width="180" height="37"/><circle class="nd" fill="#0000ff" cx="727" cy="386" r="25"/><text class="tx" x="753" y="394" textLength="177" lengthAdjust="spacingAndGlyphs">Balvanera_P</text></g>
<g id="node-Sarukhan_J"><rect class="lb" x="1309" y="455" width="167" height="37"/><polygon class="nd" fill="#0000ff" points="1296,453 1311,479 1281,479"/><text class="tx" x="1310" y="484" textLength="164" lengthAdjust="spacingAndGlyphs">Sarukhan_J</text></g>
<g id="node-Daily_GC"><rect class="lb" x="491" y="455" width="133" height="37"/><circle class="nd" fill="#ff8000" cx="463" cy="480" r="28"/><text class="tx" x="492" y="484" textLength="130" lengthAdjust="spacingAndGlyphs">Daily_GC</text></g>
<g id="node-Cramer_W"><rect class="lb" x="824" y="474" width="153" height="37"/><polygon class="nd" fill="#008000" points="797,472 824,526 770,526"/><text class="tx" x="825" y="503" textLength="150" lengthAdjust="spacingAndGlyphs">Cramer_W</text></g>
<g id="node-Lindner_M"><rect class="lb" x="89" y="530" width="151" height="37"/><polygon class="nd" fill="#008000" points="75,528 89,555 61,555"/><text class="tx" x="90" y="559" textLength="148" lengthAdjust="spacingAndGlyphs">Lindner_M</text></g>
<g id="node-Mooney_HA"><rect class="lb" x="1128" y="561" width="173" height="37"/><polygon class="nd" fill="#ff8000" points="1101,558 1128,612 1074,612"/><text class="tx" x="1129" y="590" textLength="170" lengthAdjust="spacingAndGlyphs">Mooney_HA</text></g>
<g id="node-Erhard_M"><rect class="lb" x="254" y="607" width="140" height="37"/><polygon class="nd" fill="#008000" points="236,604 256,643 216,643"/><text class="tx" x="255" y="636" textLength="137" lengthAdjust="spacingAndGlyphs">Erhard_M</text></g>
<g id="node-Smith_B"><rect class="lb" x="680" y="631" width="122" height="37"/><polygon class="nd" fill="#008000" points="667,628 681,657 653,657"/><text class="tx" x="681" y="660" textLength="119" lengthAdjust="spacingAndGlyphs">Smith_B</text></g>
<g id="node-Schmid_B"><rect class="lb" x="892" y="661" width="144" height="37"/><polygon class="nd" fill="#008000" points="886,657 894,673 878,673"/><text class="tx" x="893" y="690" textLength="141" lengthAdjust="spacingAndGlyphs">Schmid_B</text></g>
<g id="node-Carpenter_SR"><rect class="lb" x="287" y="702" width="199" height="37"/><polygon class="nd" fill="#ff8000" points="265,700 288,746 242,746"/><text class="tx" x="288" y="731" textLength="196" lengthAdjust="spacingAndGlyphs">Carpenter_SR</text></g>
<g id="node-Thuiller_W"><rect class="lb" x="1206" y="711" width="154" height="37"/><polygon class="nd" fill="#008000" points="1192,708 1206,738 1178,738"/><text class="tx" x="1207" y="740" textLength="151" lengthAdjust="spacingAndGlyphs">Thuiller_W</text></g>
<g id="node-Leemans_R"><rect class="lb" x="32" y="761" width="168" height="37"/><polygon class="nd" fill="#008000" points="17,760 34,791 0,791"/><text class="tx" x="33" y="790" textLength="165" lengthAdjust="spacingAndGlyphs">Leemans_R</text></g>
<g id="node-Kareiva_P"><rect class="lb" x="459" y="790" width="143" height="37"/><polygon class="nd" fill="#ff8000" points="437,788 459,833 415,833"/><text class="tx" x="460" y="819" textLength="140" lengthAdjust="spacingAndGlyphs">Kareiva_P</text></g>
<g id="node-Lavorel_S"><rect class="lb" x="821" y="839" width="141" height="37"/><circle class="nd" fill="#008000" cx="799" cy="858" r="22"/><text class="tx" x="822" y="868" textLength="138" lengthAdjust="spacingAndGlyphs">Lavorel_S</text></g>
<g id="node-Duraiappah_AK"><rect class="lb" x="612" y="936" width="223" height="37"/><polygon class="nd" fill="#ff0000" points="587,935 612,985 562,985"/><text class="tx" x="613" y="965" textLength="220" lengthAdjust="spacingAndGlyphs">Duraiappah_AK</text></g>
<g id="node-Pejchar_L"><rect class="lb" x="249" y="969" width="141" height="37"/><circle class="nd" fill="#ff8000" cx="239" cy="975" r="9"/><text class="tx" x="250" y="998" textLength="138" lengthAdjust="spacingAndGlyphs">Pejchar_L</text></g>
<g id="node-Polasky_S"><rect class="lb" x="845" y="1055" width="145" height="37"/><polygon class="nd" fill="#ff8000" points="810,1052 841,1111 779,1111"/><text class="tx" x="846" y="1084" textLength="142" lengthAdjust="spacingAndGlyphs">Polasky_S</text></g>
<g id="node-Zaehle_S"><rect class="lb" x="403" y="1074" width="132" height="37"/><polygon class="nd" fill="#008000" points="389,1073 405,1101 373,1101"/><text class="tx" x="404" y="1103" textLength="129" lengthAdjust="spacingAndGlyphs">Zaehle_S</text></g>
</svg>
